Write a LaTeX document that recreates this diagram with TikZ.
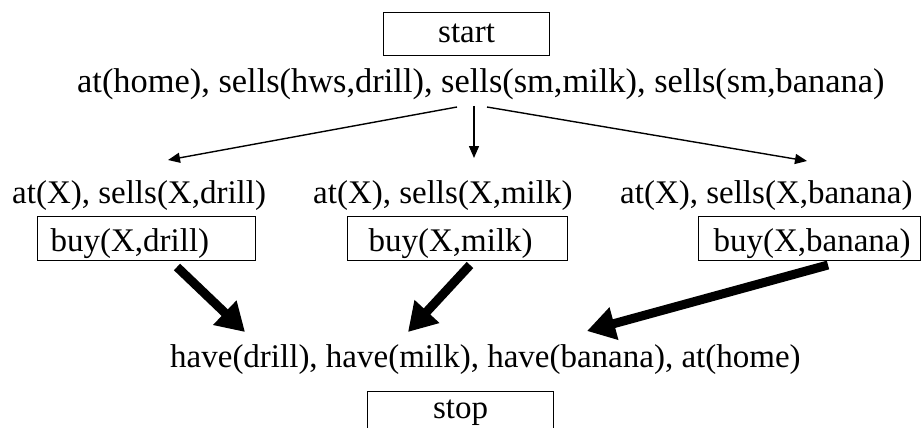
\documentclass[tikz,border=0pt]{standalone}
\usepackage{fontspec}
\setmainfont{Liberation Serif}
\usetikzlibrary{arrows.meta}
\tikzset{
  txt/.style={font=\fontsize{33}{40}\selectfont, inner sep=0pt, anchor=base west},
  framebox/.style={draw, line width=1.2pt, inner sep=0pt, anchor=north west,
    font=\fontsize{33}{40}\selectfont},
  thinarrow/.style={line width=1.4pt, -{Triangle[length=12pt,width=10pt]}},
  thickarrow/.style={line width=9pt, -{Triangle[length=28pt,width=32pt]}}
}
\begin{document}
\begin{tikzpicture}[x=1pt,y=-1pt]
\clip (0,0) rectangle (922,428);
\fill[white] (0,0) rectangle (922,428);

% start box
\node[framebox, minimum width=166pt, text height=30pt, text depth=13pt] (start) at (383,12) {start};

% initial state
\node[txt, font=\fontsize{34.4}{41}\selectfont] (init) at (77,93)
  {at(home), sells(hws,drill), sells(sm,milk), sells(sm,banana)};

% preconditions
\node[txt] (pre1) at (12,203) {at(X), sells(X,drill)};
\node[txt] (pre2) at (313,203) {at(X), sells(X,milk)};
\node[txt] (pre3) at (620,203) {at(X), sells(X,banana)};

% action boxes
\node[framebox, minimum width=218pt, text height=35pt, text depth=9pt] (buy1) at (37,216)
  {\makebox[192pt][l]{buy(X,drill)}};
\node[framebox, minimum width=220pt, text height=35pt, text depth=9pt] (buy2) at (347,216)
  {\makebox[178pt][l]{buy(X,milk)}};
\node[framebox, minimum width=222pt, text height=35pt, text depth=9pt] (buy3) at (698,216)
  {\makebox[192pt][l]{buy(X,banana)}};

% goal state
\node[txt] (goal) at (170,367) {have(drill), have(milk), have(banana), at(home)};

% stop box
\node[framebox, minimum width=186pt, text height=27pt, text depth=19pt] (stop) at (367,391) {stop};

% connector end points
\coordinate (i1) at (457,107);
\coordinate (i2) at (474,106);
\coordinate (i3) at (487,107);
\coordinate (p1) at (168,160);
\coordinate (p2) at (474,158);
\coordinate (p3) at (807,161);
\coordinate (b1) at (177,267);
\coordinate (b2) at (470,265);
\coordinate (b3) at (828,265);
\coordinate (g1) at (245,332);
\coordinate (g2) at (408,332);
\coordinate (g3) at (587,331);

\draw[thinarrow] (i1) -- (p1);
\draw[thinarrow] (i2) -- (p2);
\draw[thinarrow] (i3) -- (p3);

\draw[thickarrow] (b1) -- (g1);
\draw[thickarrow] (b2) -- (g2);
\draw[thickarrow] (b3) -- (g3);
\end{tikzpicture}
\end{document}
